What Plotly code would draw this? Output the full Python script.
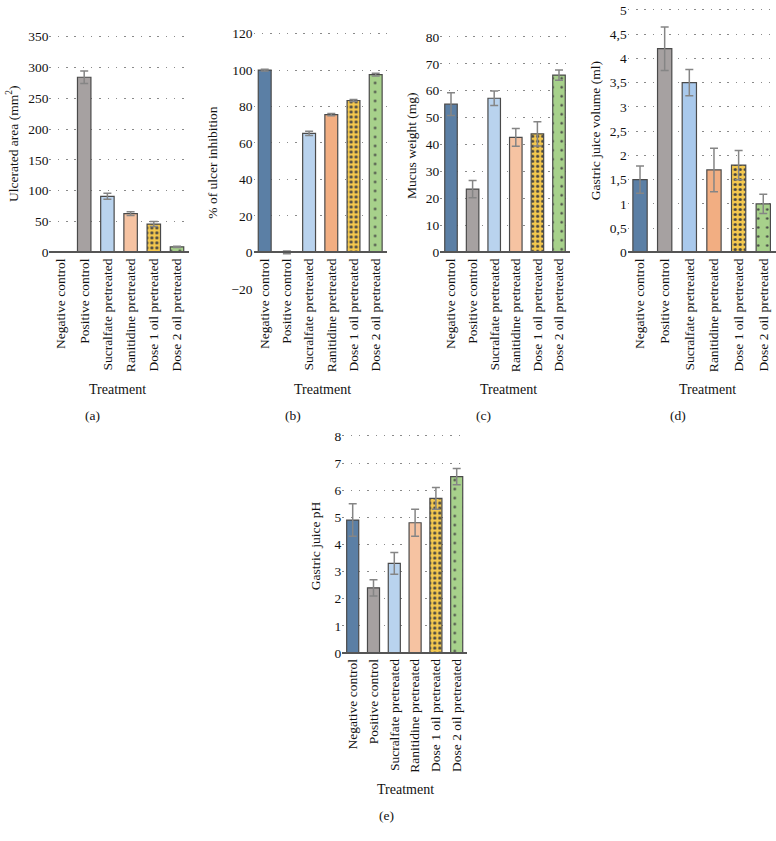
import plotly.graph_objects as go

# ---------------- data ----------------
categories = ["Negative control", "Positive control", "Sucralfate pretreated",
              "Ranitidine pretreated", "Dose 1 oil pretreated", "Dose 2 oil pretreated"]

ulcer_area = [0, 284, 91, 63, 46, 9]
ulcer_area_err = [0, 10, 5, 3, 4, 1]

inhibition = [100, 0, 65.3, 75.5, 83.3, 97.5]
inhibition_err = [0.5, 0.8, 1.2, 0.6, 0.6, 0.8]

mucus = [55, 23.5, 57.2, 42.7, 44, 65.8]
mucus_err = [4.2, 3.2, 2.7, 3.3, 4.5, 1.9]

volume = [1.5, 4.2, 3.5, 1.7, 1.8, 1.0]
volume_err = [0.28, 0.45, 0.27, 0.45, 0.3, 0.2]

ph = [4.9, 2.4, 3.3, 4.8, 5.7, 6.5]
ph_err = [0.6, 0.3, 0.4, 0.5, 0.4, 0.3]

y_titles = ["Ulcerated area (mm<sup>2</sup>)", "% of ulcer inhibition",
            "Mucus weight (mg)", "Gastric juice volume (ml)", "Gastric juice pH"]
x_title = "Treatment"
panel_labels = ["(a)", "(b)", "(c)", "(d)", "(e)"]

# ---------------- styling ----------------
W, H = 776, 841
FONT = "Liberation Serif, Times New Roman, serif"
TXT = "#111111"

fill_a = ["#5b7fa5", "#a6a1a1", "#b9d3ee", "#f6c3a2", "#f4c84e", "#a7d18b"]
fill_b = ["#5b7fa5", "#a6a1a1", "#b9d3ee", "#f2ae82", "#f4c84e", "#a7d18b"]
fill_d = ["#5b7fa5", "#a6a1a1", "#a9c9ec", "#f2ae82", "#f4c84e", "#a7d18b"]
pat_shape = ["", "", "", "", ".", "."]
pat_size = [6, 6, 6, 6, 5, 9]
pat_solid = [0.3, 0.3, 0.3, 0.3, 0.32, 0.06]
pat_fg = ["#111111"] * 6

# panel geometry in pixels: x-left, x-right, y-pixel of zero, px per unit, y range
panels = [
    dict(v=ulcer_area, e=ulcer_area_err, fill=fill_a, x0=49.4, x1=188.6, zero=252, ppu=219 / 350,
         rng=[0, 360], dtick=50, ytx=13, yty=142, tx=118, ty=391, lx=92, ly=417),
    dict(v=inhibition, e=inhibition_err, fill=fill_b, x0=253.6, x1=386.8, zero=252, ppu=1.85,
         rng=[-20, 125], dtick=20, ytx=213, yty=161, tx=322, ty=391, lx=293, ly=417),
    dict(v=mucus, e=mucus_err, fill=fill_a, x0=440.2, x1=569.8, zero=252, ppu=218.7 / 80,
         rng=[0, 83], dtick=10, ytx=412, yty=144, tx=508, ty=391, lx=483, ly=417),
    dict(v=volume, e=volume_err, fill=fill_d, x0=627.7, x1=775.6, zero=252, ppu=49.2,
         rng=[0, 5.06], dtick=0.5, ytx=595, yty=129, tx=707, ty=391, lx=678, ly=417),
    dict(v=ph, e=ph_err, fill=fill_a, x0=342.3, x1=467.1, zero=658.3, ppu=27.51,
         rng=[0, 8.2], dtick=1, ytx=315, yty=550, tx=405, ty=797, lx=386, ly=823),
]

fig = go.Figure()
annotations = []
layout_axes = {}

for i, p in enumerate(panels):
    n = "" if i == 0 else str(i + 1)
    top_px = p["zero"] - (p["rng"][1] - 0) * p["ppu"]
    bot_px = p["zero"] + (0 - p["rng"][0]) * p["ppu"]
    ydom = [1 - bot_px / H, 1 - top_px / H]
    xdom = [p["x0"] / W, p["x1"] / W]
    zero_frac = 1 - p["zero"] / H

    fig.add_trace(go.Bar(
        x=categories, y=p["v"], xaxis="x" + n, yaxis="y" + n,
        marker=dict(
            color=p["fill"],
            line=dict(color="#4a4a4a", width=1.2),
            pattern=dict(shape=pat_shape, size=pat_size, solidity=pat_solid,
                         fgcolor=pat_fg, fgopacity=1, fillmode="overlay"),
        ),
        error_y=dict(type="data", array=p["e"], visible=True, color="#858585",
                     thickness=1.5, width=4),
        showlegend=False, hoverinfo="skip",
    ))

    layout_axes["xaxis" + n] = dict(
        domain=xdom, anchor="free", position=zero_frac, type="category",
        range=[-0.5, 5.5], showgrid=False, zeroline=False,
        showline=True, linecolor="#555555", linewidth=1.5,
        ticks="", tickangle=-90, tickfont=dict(family=FONT, size=13.5, color=TXT),
        fixedrange=True,
    )
    layout_axes["yaxis" + n] = dict(
        domain=ydom, anchor="x" + n, range=p["rng"], dtick=p["dtick"], tick0=0,
        showgrid=True, gridcolor="#8a8a8a", gridwidth=1.4, griddash="1.5px,6.8px",
        zeroline=False, showline=False, ticks="",
        tickfont=dict(family=FONT, size=13.5, color=TXT), fixedrange=True,
    )

    annotations.append(dict(text=y_titles[i], x=p["ytx"] / W, y=1 - p["yty"] / H,
                            xref="paper", yref="paper", showarrow=False, textangle=-90,
                            xanchor="center", yanchor="middle",
                            font=dict(family=FONT, size=13.5, color=TXT)))
    annotations.append(dict(text=x_title, x=p["tx"] / W, y=1 - p["ty"] / H,
                            xref="paper", yref="paper", showarrow=False,
                            xanchor="center", yanchor="middle",
                            font=dict(family=FONT, size=14, color=TXT)))
    annotations.append(dict(text=panel_labels[i], x=p["lx"] / W, y=1 - p["ly"] / H,
                            xref="paper", yref="paper", showarrow=False,
                            xanchor="center", yanchor="middle",
                            font=dict(family=FONT, size=13.5, color=TXT)))

fig.update_layout(
    width=W, height=H, autosize=False,
    margin=dict(l=0, r=0, t=0, b=0),
    paper_bgcolor="white", plot_bgcolor="white",
    bargap=0.42, separators=",.",
    annotations=annotations,
    font=dict(family=FONT, color=TXT),
    **layout_axes,
)

fig.write_html("out.html", config={"displayModeBar": False},
               post_script="document.body.style.margin='0';")
